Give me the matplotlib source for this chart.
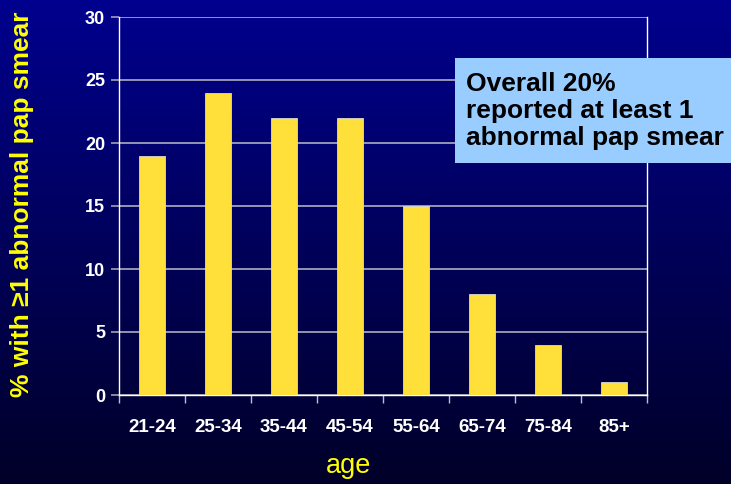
import matplotlib
matplotlib.use("Agg")
import matplotlib.pyplot as plt
import numpy as np

categories = ["21-24", "25-34", "35-44", "45-54", "55-64", "65-74", "75-84", "85+"]
values = [19, 24, 22, 22, 15, 8, 4, 1]
yticks = [0, 5, 10, 15, 20, 25, 30]

plt.rcParams['font.family'] = ['Liberation Sans', 'DejaVu Sans']

W, H = 731, 484
fig = plt.figure(figsize=(W / 100, H / 100), dpi=100)

# background gradient
bg = fig.add_axes([0, 0, 1, 1], zorder=-10)
grad = np.linspace(0, 1, 256).reshape(-1, 1)
top = np.array([0, 0, 142]) / 255
bot = np.array([0, 0, 40]) / 255
img = top[None, None, :] * (1 - grad[:, :, None]) + bot[None, None, :] * grad[:, :, None]
bg.imshow(img, aspect='auto', extent=[0, 1, 0, 1])
bg.axis('off')

left, right, topy, boty = 119, 647, 17, 395
ax = fig.add_axes([left / W, 1 - boty / H, (right - left) / W, (boty - topy) / H])
ax.patch.set_alpha(0)

x = np.arange(len(categories))
ax.bar(x, values, width=0.4, color='#FFE03A', edgecolor='#D8D8D8', linewidth=0.6, zorder=3)
ax.set_xlim(-0.5, len(categories) - 0.5)
ax.set_ylim(0, 30)
ax.set_yticks(yticks)
ax.set_yticklabels([str(v) for v in yticks], color='white', fontsize=13, fontweight='bold')
ax.set_xticks(x)
ax.set_xticklabels(categories, color='white', fontsize=13.5, fontweight='bold')
ax.tick_params(axis='x', length=0, pad=17)
ax.set_xticks(np.arange(len(categories) + 1) - 0.5, minor=True)
ax.tick_params(axis='x', which='minor', length=6, color='#C0C0C0', width=1)
ax.tick_params(axis='y', length=6, color='#A0A0B8', width=1.2, pad=4)
ax.yaxis.grid(True, color='#A0A0B8', linewidth=1.3, zorder=0)
ax.set_axisbelow(True)
for s in ['left', 'right', 'bottom']:
    ax.spines[s].set_color('white')
    ax.spines[s].set_linewidth(1)
ax.spines['top'].set_visible(False)

fig.text(22 / W, 1 - 204 / H, "% with \u22651 abnormal pap smear", rotation=90, color='#FFFF00',
         fontsize=19, fontweight='bold', ha='center', va='center')
fig.text(349 / W, 1 - 466 / H, "age", color='#FFFF00', fontsize=19.5, ha='center', va='center')

fig.patches.append(plt.Rectangle((455 / W, 1 - 163 / H), (W - 455) / W, 105 / H,
                                 transform=fig.transFigure, facecolor='#99CCFF', edgecolor='none', zorder=5))
fig.text(466 / W, 1 - 111 / H, "Overall 20%\nreported at least 1\nabnormal pap smear",
         color='black', fontsize=19, fontweight='bold', ha='left', va='center', linespacing=1.15, zorder=6)

fig.savefig("out.png", dpi=100)
